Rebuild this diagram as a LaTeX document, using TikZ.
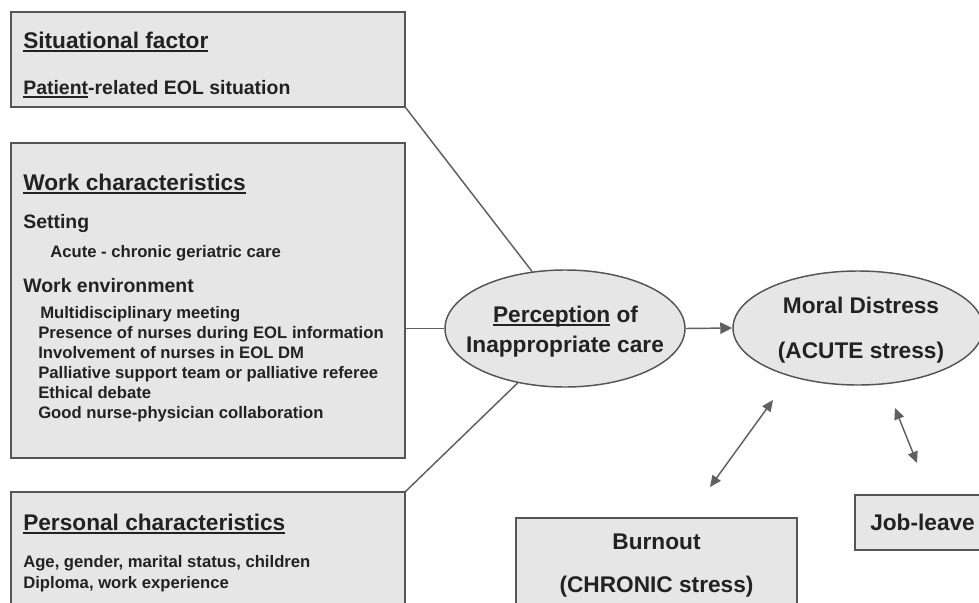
\documentclass[tikz,border=0pt]{standalone}
\usepackage{fontspec}
\setmainfont{Liberation Sans}
\usetikzlibrary{shapes.geometric,arrows.meta}
\definecolor{boxfill}{HTML}{E6E6E6}
\definecolor{boxline}{HTML}{555555}
\definecolor{conline}{HTML}{606060}
\definecolor{txt}{HTML}{222222}
\newcommand\myul[1]{\leavevmode\setbox0\hbox{#1}\rlap{\rule[-3pt]{\wd0}{1.2pt}}\box0\relax}
\tikzset{
  panel/.style={draw=boxline, fill=boxfill, line width=1.1pt, rectangle, inner sep=0pt},
  oval/.style={draw=boxline, fill=boxfill, line width=1.1pt, ellipse, inner sep=0pt},
  lbl/.style={inner sep=0pt, text=txt, font=\bfseries},
  big/.style={lbl, font=\bfseries\fontsize{17}{20}\selectfont},
  mid/.style={lbl, font=\bfseries\fontsize{14.6}{17}\selectfont},
  small/.style={lbl, font=\bfseries\fontsize{12.5}{15}\selectfont},
  conn/.style={draw=conline, line width=1.1pt},
  arr/.style={conn, -{Triangle[length=9pt,width=8.5pt]}},
  dbl/.style={conn, {Triangle[length=8.5pt,width=7.5pt]}-{Triangle[length=8.5pt,width=7.5pt]}}
}
\begin{document}
\begin{tikzpicture}[x=0.75pt,y=-0.75pt]
\clip (0,0) rectangle (979,603);
\fill[white] (0,0) rectangle (979,603);
% boxes
\node[panel, minimum width=295.5pt, minimum height=71.25pt] (sit) at (208,59.5) {};
\node[panel, minimum width=295.5pt, minimum height=236.25pt] (work) at (208,300.5) {};
\node[panel, minimum width=295.5pt, minimum height=111pt] (pers) at (208,566) {};
\node[panel, minimum width=210.75pt, minimum height=91.5pt] (burn) at (656.5,579) {};
\node[panel, minimum width=116.25pt, minimum height=41.25pt] (job) at (932.5,522.5) {};
\node[oval, minimum width=180pt, minimum height=87.75pt] (perc) at (565,328.5) {};
\node[oval, minimum width=187.5pt, minimum height=85.5pt] (moral) at (858,328) {};
% connectors
\draw[conn] (sit.south east) -- (perc.120);
\draw[conn] (perc.west) -- (perc.west -| work.east);
\draw[conn] (pers.north east) -- (perc.229);
\draw[arr] (perc.east) -- (moral.west);
\coordinate (b1) at (773,400);
\coordinate (b2) at (710,487);
\coordinate (j1) at (895,408);
\coordinate (j2) at (917,463);
\draw[dbl] (b1) -- (b2);
\draw[dbl] (j1) -- (j2);
% texts: situational
\node[big, anchor=base west] (s1) at (23,48) {\myul{Situational factor}};
\node[mid, anchor=base west] (s2) at (23,94) {\myul{Patient}-related EOL situation};
% work
\node[big, anchor=base west] (w1) at (23,190) {\myul{Work characteristics}};
\node[mid, anchor=base west] (w2) at (23,228) {Setting};
\node[small, anchor=base west] (w3) at (50,257) {Acute - chronic geriatric care};
\node[mid, anchor=base west] (w4) at (23,292) {Work environment};
\node[small, anchor=base west] (w5) at (40,318) {Multidisciplinary meeting};
\node[small, anchor=base west] (w6) at (38,338) {Presence of nurses during EOL information};
\node[small, anchor=base west] (w7) at (38,358) {Involvement of nurses in EOL DM};
\node[small, anchor=base west] (w8) at (38,378) {Palliative support team or palliative referee};
\node[small, anchor=base west] (w9) at (38,398) {Ethical debate};
\node[small, anchor=base west] (w10) at (38,418) {Good nurse-physician collaboration};
% personal
\node[big, anchor=base west] (p1) at (23,530) {\myul{Personal characteristics}};
\node[small, anchor=base west] (p2) at (23,567) {Age, gender, marital status, children};
\node[small, anchor=base west] (p3) at (23,588) {Diploma, work experience};
% ellipses
\node[big, anchor=base] (e1) at (565.5,322) {\myul{Perception} of};
\node[big, anchor=base] (e2) at (565,352) {Inappropriate care};
\node[big, anchor=base] (m1) at (861,313) {Moral Distress};
\node[big, anchor=base] (m2) at (861,358) {(ACUTE stress)};
% burnout, job-leave
\node[big, anchor=base] (bt1) at (656.5,549) {Burnout};
\node[big, anchor=base] (bt2) at (656.5,592) {(CHRONIC stress)};
\node[big, anchor=base west] (jt) at (870,530) {Job-leave};
\end{tikzpicture}
\end{document}
